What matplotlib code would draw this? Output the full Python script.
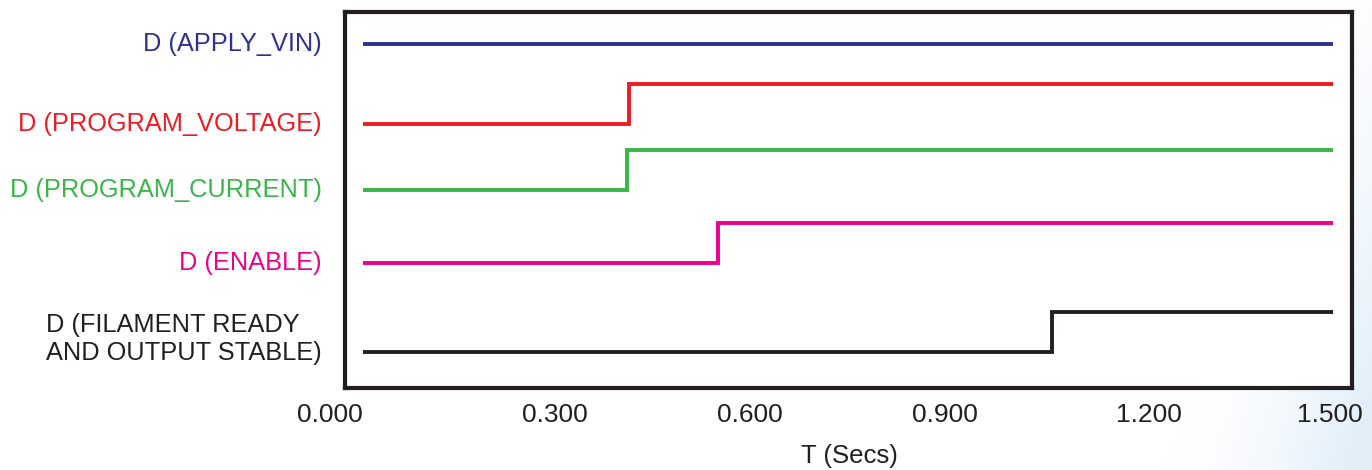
import matplotlib
matplotlib.use("Agg")
import matplotlib.pyplot as plt
import matplotlib.transforms as mtransforms
import numpy as np

# ---- data ----
signal_labels = ["D (APPLY_VIN)", "D (PROGRAM_VOLTAGE)", "D (PROGRAM_CURRENT)",
                 "D (ENABLE)", "D (FILAMENT READY\nAND OUTPUT STABLE)"]
signal_colors = ["#2e3192", "#ed1c24", "#39b54a", "#ec008c", "#231f20"]
step_times = [0.0, 0.411, 0.408, 0.549, 1.065]   # time each signal goes high (s)
t_end = 1.5
xtick_values = [0.0, 0.3, 0.6, 0.9, 1.2, 1.5]
xtick_labels = ["0.000", "0.300", "0.600", "0.900", "1.200", "1.500"]
x_label = "T (Secs)"

# ---- layout ----
W, H = 1372, 470
fig = plt.figure(figsize=(W / 100, H / 100), dpi=100)
plt.rcParams['font.family'] = ['Liberation Sans', 'DejaVu Sans']

# subtle background gradient bottom-right
bg = fig.add_axes([0, 0, 1, 1], zorder=-10)
bg.set_xlim(0, W); bg.set_ylim(H, 0); bg.axis('off')
gx, gy = np.meshgrid(np.linspace(0, W, 400), np.linspace(0, H, 140))
g = np.clip((gx + 0.35 * gy - 1330) / 180, 0, 1) ** 1.5
img = np.ones((140, 400, 4))
img[..., 0] = 1 - 0.11 * g
img[..., 1] = 1 - 0.06 * g
img[..., 2] = 1 - 0.02 * g
bg.imshow(img, extent=[0, W, H, 0], aspect='auto')

left, right, top, bottom = 345, 1352, 12, 388
ax = fig.add_axes([left / W, 1 - bottom / H, (right - left) / W, (bottom - top) / H])
ax.set_facecolor('white')

px_per_s = (1333 - 363) / 1.5
ax.set_xlim(-(363 - left) / px_per_s, t_end + (right - 1333) / px_per_s)
ax.set_ylim(bottom, top)  # pixel-like y axis (inverted)

low_levels = [44, 124, 190.5, 263, 352]
amp = 40
label_y = [44, 124, 190, 263, 339]

for i, (lab, col, ts) in enumerate(zip(signal_labels, signal_colors, step_times)):
    lo = low_levels[i]
    if ts <= 0:
        xs = [0, t_end]; ys = [lo, lo]
    else:
        xs = [0, ts, ts, t_end]; ys = [lo, lo, lo - amp, lo - amp]
    ax.plot(xs, ys, color=col, lw=2.8, solid_joinstyle='miter', solid_capstyle='butt')
    ax.text(322, label_y[i], lab, transform=mtransforms.blended_transform_factory(
        mtransforms.IdentityTransform(), ax.transData),
        color=col, fontsize=18.3, ha='right', va='center', multialignment='left',
        linespacing=1.22)

for s in ax.spines.values():
    s.set_linewidth(3)
    s.set_color('#231f20')
ax.set_yticks([])
ax.set_xticks(xtick_values)
ax.set_xticklabels(xtick_labels, fontsize=19, color='#231f20')
ax.tick_params(axis='x', length=0, pad=11)
shifts = [-33, -2, -1, 0, 10, -3]
for lab, dx in zip(ax.get_xticklabels(), shifts):
    lab.set_transform(lab.get_transform() + mtransforms.ScaledTranslation(dx / 100, 0, fig.dpi_scale_trans))
fig.text(849 / W, 7 / H, x_label, ha='center', va='baseline', fontsize=18.5, color='#231f20')

fig.savefig("out.png", dpi=100)
